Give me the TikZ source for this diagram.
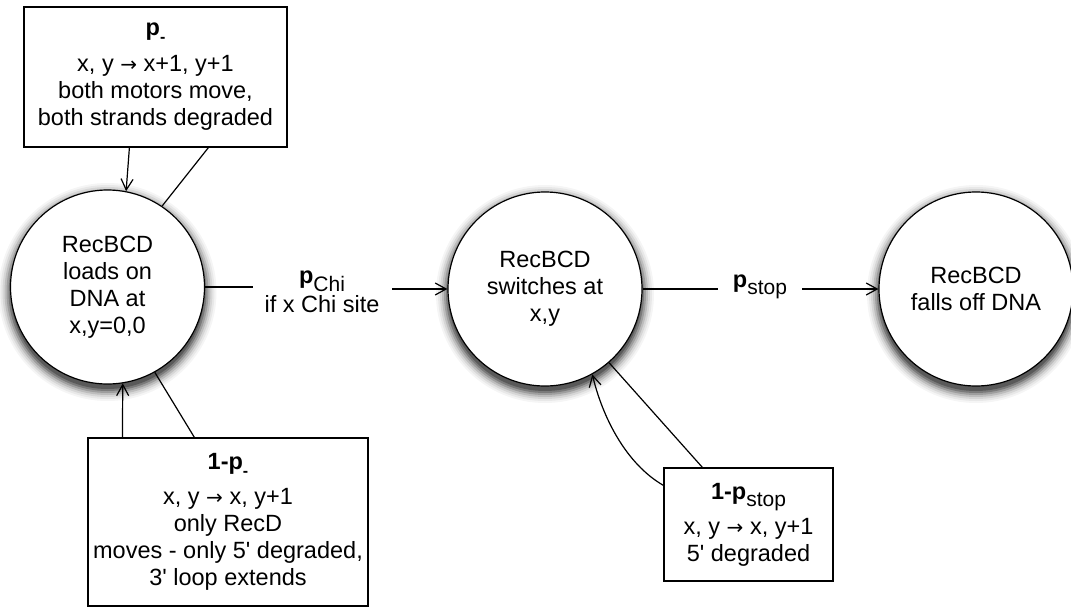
\documentclass[tikz,border=0pt]{standalone}
\usepackage{fontspec}
\setmainfont{Liberation Sans}[Ligatures=TeXOff]
\newfontfamily\arrowfont{DejaVu Sans}
\usetikzlibrary{arrows.meta,calc}

% lowered subscript text at nearly full size
\newcommand{\lowsub}[1]{\raisebox{-0.32em}{\fontsize{21}{21}\selectfont #1}}
% small dash used as a subscript
\newcommand{\lowdash}{\raisebox{-0.28em}{\fontsize{16}{16}\selectfont\bfseries -}}
% rightwards arrow in the transition rules
\newcommand{\goesto}{{\arrowfont\fontsize{20}{20}\selectfont →}}

\begin{document}
\begin{tikzpicture}[
  x=1pt, y=-1pt,
  line width=1.2pt,
  >={Straight Barb[length=11pt,width=12pt,line width=1.2pt]},
  every node/.style={font=\fontsize{23.5}{27}\selectfont},
  state/.style={circle, draw, fill=white, inner sep=0pt, minimum size=194pt,
    align=center},
  rulebox/.style={rectangle, draw, fill=white, inner sep=0pt, align=center},
  edgelabel/.style={inner sep=0pt, align=center}
]
\useasboundingbox (0,0) rectangle (1071,608);

% centres of the three states
\coordinate (p1) at (107.5,287);
\coordinate (p2) at (545,289);
\coordinate (p3) at (976,289);

% soft shadows under the states, built up from grey discs
\foreach \c in {p1,p2,p3}{
  \fill[black!4]  ($(\c)+(0,5)$) circle[radius=109pt];
  \fill[black!9]  ($(\c)+(0,5)$) circle[radius=107pt];
  \fill[black!16] ($(\c)+(0,5)$) circle[radius=105pt];
  \fill[black!26] ($(\c)+(0,5)$) circle[radius=103pt];
  \fill[black!38] ($(\c)+(0,5)$) circle[radius=101pt];
  \fill[black!52] ($(\c)+(0,5)$) circle[radius=99pt];
  \fill[black!65] ($(\c)+(0,5)$) circle[radius=97pt];
}

% states
\node[state] (c1) at (p1) {RecBCD\\loads on\\DNA at\\x,y=0,0};
\node[state] (c2) at (p2) {RecBCD\\switches at\\x,y};
\node[state] (c3) at (p3) {RecBCD\\falls off DNA};

% rule boxes
\node[rulebox, minimum width=263pt, minimum height=140pt] (top) at (155.5,77)
  {\textbf{p}\lowdash\\[9pt]x, y \goesto{} x+1, y+1\\both motors move,\\both strands degraded};
\node[rulebox, minimum width=280pt, minimum height=168pt] (bot) at (228,522)
  {\textbf{1-p}\lowdash\\[8pt]x, y \goesto{} x, y+1\\only RecD\\moves - only 5' degraded,\\3' loop extends};
\node[rulebox, minimum width=169pt, minimum height=113pt] (brb) at (748.5,524.5)
  {\textbf{1-p}\lowsub{stop}\\[6pt]x, y \goesto{} x, y+1\\5' degraded};

% transition labels
\node[edgelabel] (lchi) at (322,292) {\textbf{p}\lowsub{Chi}\\[2pt]if x Chi site};
\node[edgelabel] (lstop) at (760,287) {\textbf{p}\lowsub{stop}};

% transitions between states
\draw (c1.east) -- (253,287) coordinate (e1);
\draw[->] (392,289) coordinate (s1) -- (c2.west);
\draw (c2.east) -- (718,289) coordinate (e2);
\draw[->] (802,289) coordinate (s2) -- (c3.west);

% self loops of the loading state
\draw[->] ($(top.south west)+(106,0)$) -- (c1.79);
\draw ($(top.south west)+(185,0)$) -- (c1.56);
\draw[->] ($(bot.north west)+(35,0)$) -- (c1.-81);
\draw ($(bot.north west)+(107,0)$) -- (c1.-61);

% self loop of the switched state
\draw[->] ($(brb.north west)+(0,18)$) .. controls +(-38,-22) and +(10,42) .. (c2.-61);
\draw ($(brb.north west)+(39,0)$) -- (c2.-49);
\end{tikzpicture}
\end{document}
